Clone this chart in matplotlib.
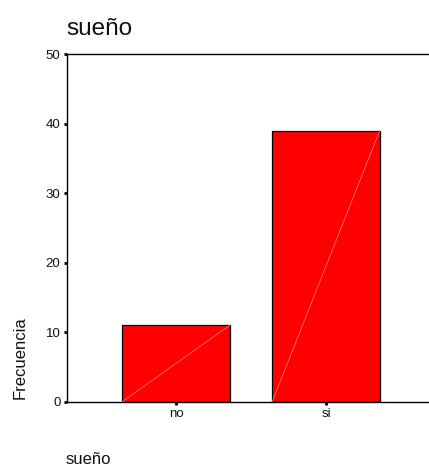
import matplotlib.pyplot as plt

plt.rcParams['font.family'] = ['Liberation Sans', 'DejaVu Sans']

# data
categories = ['no', 'si']
frecuencia = [11, 39]
y_ticks = [0, 10, 20, 30, 40, 50]

fig = plt.figure(figsize=(4.29, 4.66), dpi=100)
ax = fig.add_axes([0.1555, 0.138, 0.8445, 0.746])

x = list(range(len(categories)))
w = 0.717
ax.bar(x, frecuencia, width=w, color='#ff0000', edgecolor='black', linewidth=0.9, zorder=2)

# thin diagonal inside each bar
for xi, h in zip(x, frecuencia):
    ax.plot([xi - w / 2, xi + w / 2], [0, h], color='#ff8c8c', lw=0.5, zorder=3)

ax.set_xlim(-0.729, 1.687)
ax.set_ylim(0, 50)
ax.set_xticks(x)
ax.set_xticklabels(categories)
ax.set_yticks(y_ticks)

ax.tick_params(axis='y', length=2, width=2, pad=2.5, labelsize=9.5, color='black', labelcolor='#111111')
ax.tick_params(axis='x', length=2.5, width=2, pad=2, labelsize=9.5, color='black', labelcolor='#111111')

ax.spines['right'].set_visible(False)
for s in ['left', 'top', 'bottom']:
    ax.spines[s].set_linewidth(1.0)
    ax.spines[s].set_color('black')

fig.text(66 / 429, 1 - 35 / 466, 'sueño', fontsize=17.5, ha='left', va='baseline', color='#111111')
fig.text(20.5 / 429, 1 - 358 / 466, 'Frecuencia', fontsize=12, rotation=90, ha='center', va='center', color='#111111')
fig.text(66 / 429, 1 - 463.5 / 466, 'sueño', fontsize=12, ha='left', va='baseline', color='#111111')

fig.savefig('out.png', dpi=100)
